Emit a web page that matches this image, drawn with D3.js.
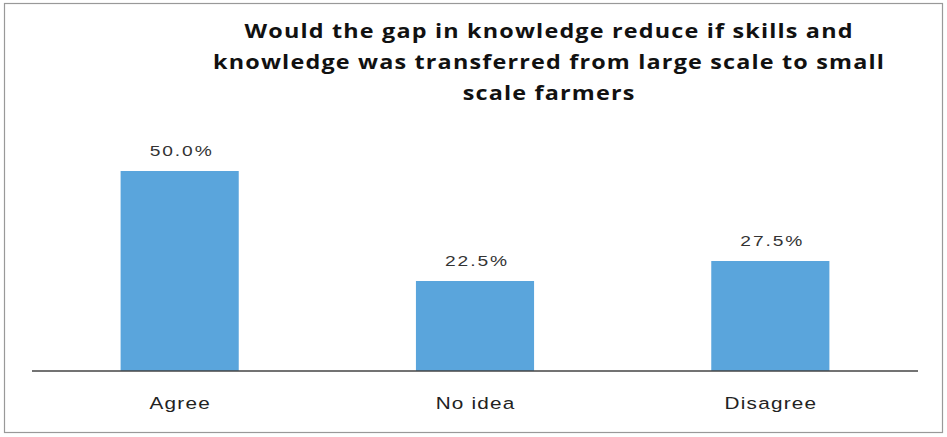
<!DOCTYPE html>
<html><head><meta charset="utf-8">
<script src="https://cdn.jsdelivr.net/npm/d3@7"></script>
<style>body{margin:0;background:#fff}svg{display:block}</style>
</head><body><svg id="c" width="947" height="437"></svg>
<script>
const categories = ["Agree", "No idea", "Disagree"];
const values = [50.0, 22.5, 27.5];
const titleLines = ["Would the gap in knowledge reduce if skills and", "knowledge was transferred from large scale to small", "scale farmers"];

const svg = d3.select("#c");
svg.append("rect").attr("x", 4.5).attr("y", 3.5).attr("width", 938).attr("height", 429)
  .attr("fill", "#fff").attr("stroke", "#999").attr("stroke-width", 1.2);

const x = d3.scaleBand().domain(categories).range([32, 918]).paddingInner(0.6).paddingOuter(0.3);
const y = d3.scaleLinear().domain([0, 60]).range([371, 131]);

svg.selectAll("rect.bar").data(values).join("rect").attr("class", "bar")
  .attr("x", (d, i) => x(categories[i])).attr("width", x.bandwidth())
  .attr("y", d => y(d)).attr("height", d => y(0) - y(d)).attr("fill", "#5AA5DC");

const xAxis = d3.axisBottom(x).tickSize(0).tickPadding(26);
const gx = svg.append("g").attr("transform", `translate(0,${y(0)})`).call(xAxis);
gx.select(".domain").attr("stroke", "#444").attr("stroke-width", 1.5).attr("d", "M32,0H918");
gx.selectAll("text").attr("font-family", "Liberation Sans, Arial, sans-serif").attr("font-size", 17)
  .attr("letter-spacing", 1).attr("dx", 0.5).attr("transform", "scale(1.22,1)").attr("fill", "#222");

svg.selectAll("text.lbl").data(values).join("text").attr("class", "lbl")
  .attr("transform", (d, i) => `translate(${x(categories[i]) + x.bandwidth() / 2 + 1},${y(d) - 15}) scale(1.28,1)`)
  .attr("text-anchor", "middle").attr("font-family", "Liberation Sans, Arial, sans-serif")
  .attr("font-size", 15).attr("letter-spacing", 1.5).attr("dx", 0.75).attr("fill", "#333").text(d => d.toFixed(1) + "%");

svg.selectAll("text.title").data(titleLines).join("text").attr("class", "title")
  .attr("transform", (d, i) => `translate(548.5,${38 + i * 31}) scale(1.17,1)`).attr("text-anchor", "middle")
  .attr("font-family", "Open Sans, sans-serif").attr("font-weight", "bold").attr("font-size", 20)
  .attr("letter-spacing", 1).attr("dx", 0.5).attr("fill", "#111").text(d => d);
</script></body></html>
